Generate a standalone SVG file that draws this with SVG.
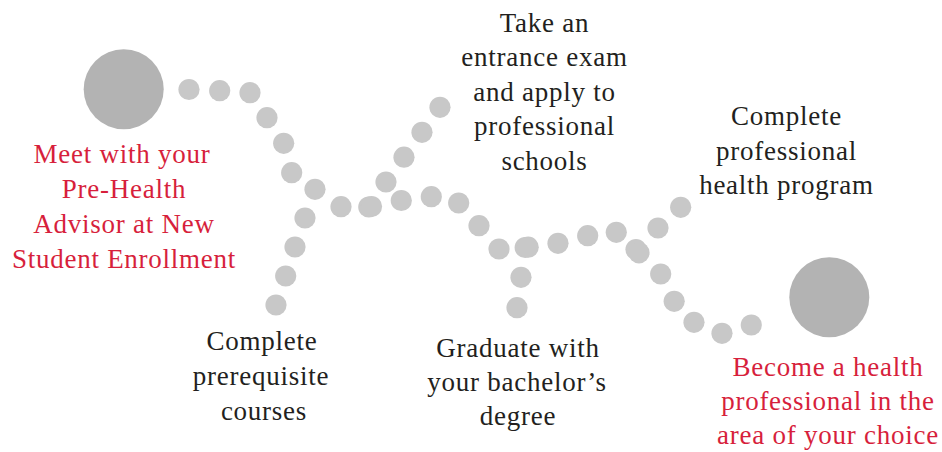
<svg xmlns="http://www.w3.org/2000/svg" width="942" height="452" viewBox="0 0 942 452">
<style>
.big{fill:#b3b3b3}
.dot{fill:#c8c8c8}
text{font-family:"Liberation Serif","Times New Roman",serif;font-size:27px;letter-spacing:0.75px;text-anchor:middle}
.red{fill:#d71f3c}
.dark{fill:#231f20}
</style>
<rect width="942" height="452" fill="#ffffff"/>
<g id="connectors">
<circle class="dot" cx="189" cy="89.5" r="10.6"/>
<circle class="dot" cx="219.7" cy="90.7" r="10.6"/>
<circle class="dot" cx="250" cy="92.7" r="10.6"/>
<circle class="dot" cx="267" cy="117.7" r="10.6"/>
<circle class="dot" cx="283.7" cy="143.3" r="10.6"/>
<circle class="dot" cx="291.7" cy="172.7" r="10.6"/>
<circle class="dot" cx="315" cy="189.3" r="10.6"/>
<circle class="dot" cx="305" cy="218" r="10.6"/>
<circle class="dot" cx="295" cy="247" r="10.6"/>
<circle class="dot" cx="285.7" cy="276" r="10.6"/>
<circle class="dot" cx="276" cy="305" r="10.6"/>
<circle class="dot" cx="341" cy="206.7" r="10.6"/>
<circle class="dot" cx="368.8" cy="207" r="10.6"/>
<circle class="dot" cx="371.5" cy="206.5" r="10.6"/>
<circle class="dot" cx="386" cy="182" r="10.6"/>
<circle class="dot" cx="404" cy="157.2" r="10.6"/>
<circle class="dot" cx="422" cy="132.3" r="10.6"/>
<circle class="dot" cx="440" cy="107.3" r="10.6"/>
<circle class="dot" cx="401.3" cy="200.5" r="10.6"/>
<circle class="dot" cx="431.3" cy="196.7" r="10.6"/>
<circle class="dot" cx="458.7" cy="203" r="10.6"/>
<circle class="dot" cx="479" cy="225.7" r="10.6"/>
<circle class="dot" cx="499" cy="249" r="10.6"/>
<circle class="dot" cx="525.2" cy="247.5" r="10.6"/>
<circle class="dot" cx="528.2" cy="247.2" r="10.6"/>
<circle class="dot" cx="521" cy="277.3" r="10.6"/>
<circle class="dot" cx="517" cy="307.7" r="10.6"/>
<circle class="dot" cx="558" cy="243.3" r="10.6"/>
<circle class="dot" cx="587.7" cy="235.7" r="10.6"/>
<circle class="dot" cx="616.3" cy="232.3" r="10.6"/>
<circle class="dot" cx="636" cy="249.5" r="10.6"/>
<circle class="dot" cx="639" cy="252.8" r="10.6"/>
<circle class="dot" cx="658" cy="228" r="10.6"/>
<circle class="dot" cx="680.7" cy="207.3" r="10.6"/>
<circle class="dot" cx="660.7" cy="274" r="10.6"/>
<circle class="dot" cx="674.2" cy="301.3" r="10.6"/>
<circle class="dot" cx="694" cy="322.3" r="10.6"/>
<circle class="dot" cx="722" cy="333.3" r="10.6"/>
<circle class="dot" cx="751.3" cy="325" r="10.6"/>
</g>
<g id="start">
<circle class="big" cx="123.7" cy="89.3" r="40"/>
<text class="red"><tspan x="122" y="163.3">Meet with your</tspan><tspan x="124" y="198.3">Pre-Health</tspan><tspan x="124" y="232.7">Advisor at New</tspan><tspan x="124" y="267.5">Student Enrollment</tspan></text>
</g>
<g id="prerequisites">
<text class="dark"><tspan x="262" y="350">Complete</tspan><tspan x="261" y="384.5">prerequisite</tspan><tspan x="264" y="419.5">courses</tspan></text>
</g>
<g id="graduate">
<text class="dark"><tspan x="518" y="356.5">Graduate with</tspan><tspan x="517" y="391">your bachelor’s</tspan><tspan x="518" y="425">degree</tspan></text>
</g>
<g id="exam">
<text class="dark"><tspan x="544.5" y="31.7">Take an</tspan><tspan x="544.5" y="66">entrance exam</tspan><tspan x="544.5" y="100.5">and apply to</tspan><tspan x="544.5" y="135">professional</tspan><tspan x="544.5" y="169.5">schools</tspan></text>
</g>
<g id="program">
<text class="dark"><tspan x="786.5" y="125">Complete</tspan><tspan x="786.5" y="159.5">professional</tspan><tspan x="786.5" y="194">health program</tspan></text>
</g>
<g id="end">
<circle class="big" cx="829.3" cy="297.3" r="40"/>
<text class="red"><tspan x="828" y="375.7">Become a health</tspan><tspan x="828" y="410">professional in the</tspan><tspan x="828" y="443.5">area of your choice</tspan></text>
</g>
</svg>
